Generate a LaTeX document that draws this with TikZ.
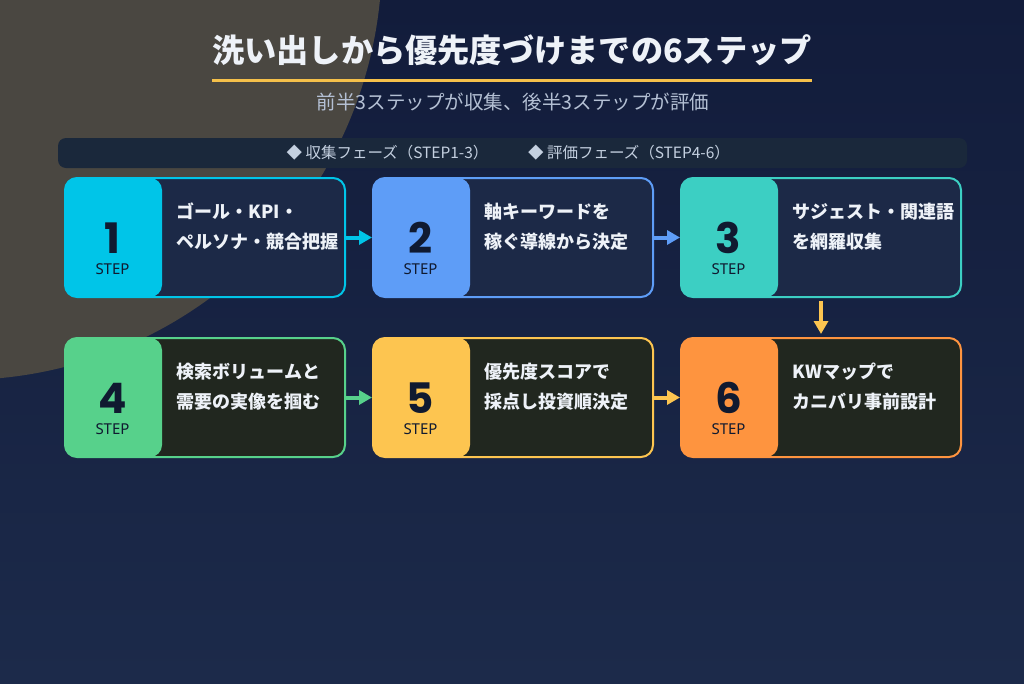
\documentclass[tikz,border=0pt]{standalone}
\usepackage{fontspec}
\newfontfamily\jpfont{Noto Sans CJK JP}
\newfontfamily\numfont{Poppins}
\newfontfamily\latinfont{Noto Sans}
\usetikzlibrary{arrows.meta,positioning}

\definecolor{bgtop}{HTML}{121C3B}
\definecolor{bgbot}{HTML}{1C2A4A}
\definecolor{blob}{HTML}{4A4741}
\definecolor{titlewhite}{HTML}{EEF2F8}
\definecolor{subgrey}{HTML}{B4C0D4}
\definecolor{legendfill}{HTML}{1A283B}
\definecolor{legendtext}{HTML}{C4D0E0}
\definecolor{underline}{HTML}{F5C04A}
\definecolor{numdark}{HTML}{101A30}
\definecolor{panelA}{HTML}{1C2947}
\definecolor{panelB}{HTML}{21271F}
\definecolor{stepA}{HTML}{00C5E8}
\definecolor{stepB}{HTML}{5E9DF7}
\definecolor{stepC}{HTML}{3CCFC3}
\definecolor{stepD}{HTML}{57D18B}
\definecolor{stepE}{HTML}{FDC550}
\definecolor{stepF}{HTML}{FE943F}

\begin{document}
\begin{tikzpicture}[x=1pt,y=-1pt,
  stepbox/.style={draw, line width=2pt, rounded corners=12pt, anchor=north west,
    minimum width=280pt, minimum height=119pt, inner sep=0pt},
  numtext/.style={text=numdark, font=\numfont\bfseries\fontsize{42}{42}\selectfont,
    inner sep=0pt, text depth=0pt},
  steptext/.style={text=numdark, font=\latinfont\fontsize{15}{15}\selectfont,
    inner sep=0pt, text height=10.5pt},
  bodytext/.style={text=titlewhite, font=\jpfont\bfseries\fontsize{18}{18}\selectfont, inner sep=0pt, anchor=base west},
  legendtxt/.style={text=legendtext, font=\jpfont\fontsize{15.5}{15.5}\selectfont, inner sep=0pt, anchor=base},
  flowarrow/.style={line width=4pt, -{Triangle[length=13pt,width=14pt]}}]
  \useasboundingbox (0,0) rectangle (1024,683);
  % background
  \shade[top color=bgtop, bottom color=bgbot] (0,0) rectangle (1024,683);
  \begin{scope}
    \clip (0,0) rectangle (1024,683);
    \fill[blob] (-40,-42) circle (422pt);
  \end{scope}

  % heading
  \node[text=titlewhite, font=\jpfont\bfseries\fontsize{32.2}{32.2}\selectfont, inner sep=0pt, anchor=base]
    (title) at (512,62.5) {洗い出しから優先度づけまでの6ステップ};
  \draw[underline, line width=3pt] (212,80) -- (812,80);
  \node[text=subgrey, font=\jpfont\fontsize{19.5}{19.5}\selectfont, inner sep=0pt, anchor=base]
    (subtitle) at (513,109.5) {前半3ステップが収集、後半3ステップが評価};

  % legend
  \node[fill=legendfill, rounded corners=8pt, minimum width=909pt, minimum height=30pt, inner sep=0pt]
    (legend) at (512.5,153) {};
  \node[legendtxt] (phaseA) at (387.5,158) {◆ 収集フェーズ（STEP1-3）};
  \node[legendtxt] (phaseB) at (629,158) {◆ 評価フェーズ（STEP4-6）};

  % steps
  \foreach \n/\cx/\cy/\acc/\pan/\la/\lb in {
    1/64/177/stepA/panelA/{ゴール・KPI・}/{ペルソナ・競合把握},
    2/372/177/stepB/panelA/{軸キーワードを}/{稼ぐ導線から決定},
    3/680/177/stepC/panelA/{サジェスト・関連語}/{を網羅収集},
    4/64/337/stepD/panelB/{検索ボリュームと}/{需要の実像を掴む},
    5/372/337/stepE/panelB/{優先度スコアで}/{採点し投資順決定},
    6/680/337/stepF/panelB/{KWマップで}/{カニバリ事前設計}}{
    \node[stepbox, draw=\acc, fill=\pan,
      path picture={\fill[\acc] (path picture bounding box.north west)
        rectangle ([xshift=97pt]path picture bounding box.south west);}]
      (s\n) at (\cx,\cy) {};
    \node[numtext, anchor=base] (n\n) at ([xshift=48.5pt,yshift=-76pt]s\n.north west) {\n};
    \node[steptext, anchor=base] (l\n) at ([xshift=48.5pt,yshift=-97pt]s\n.north west) {STEP};
    \node[bodytext] (a\n) at ([xshift=112.5pt,yshift=-41pt]s\n.north west) {\la};
    \node[bodytext] (b\n) at ([xshift=112.5pt,yshift=-71pt]s\n.north west) {\lb};
  }

  % connectors
  \draw[flowarrow, stepA] (s1.east) -- (s2.west);
  \draw[flowarrow, stepB] (s2.east) -- (s3.west);
  \draw[flowarrow, stepE, shorten <=3pt, shorten >=3pt] (s3.south) -- (s6.north);
  \draw[flowarrow, stepD] (s4.east) -- (s5.west);
  \draw[flowarrow, stepE] (s5.east) -- (s6.west);
\end{tikzpicture}
\end{document}
